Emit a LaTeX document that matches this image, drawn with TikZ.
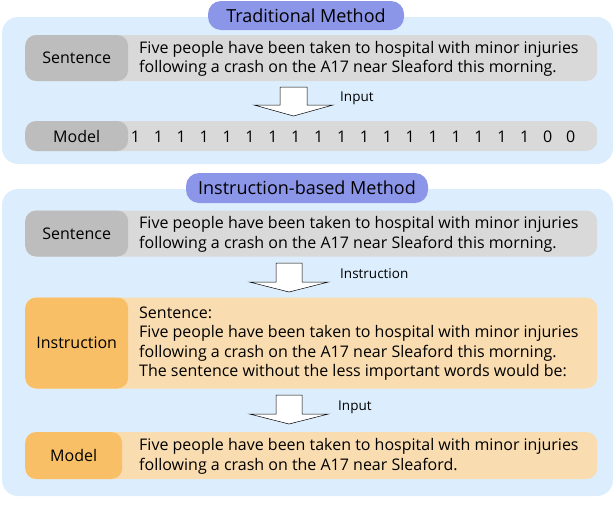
\documentclass[tikz,border=0pt]{standalone}
\usepackage{fontspec}
\setmainfont{Open Sans}
\usetikzlibrary{positioning}

\definecolor{panelblue}{HTML}{DCEEFD}
\definecolor{pillblue}{HTML}{8C96E8}
\definecolor{graylight}{HTML}{D9D9D9}
\definecolor{graydark}{HTML}{BDBDBD}
\definecolor{orangelight}{HTML}{F9DCB0}
\definecolor{orangedark}{HTML}{F9BF66}

\begin{document}
\begin{tikzpicture}[
  x = 1pt, y = -1pt,
  font          = \fontsize{16}{19.5}\selectfont,
  every node/.style = {align=left, inner sep=0pt},
  panel/.style  = {fill=panelblue, rounded corners=16pt, minimum width=611pt},
  pill/.style   = {fill=pillblue, rounded corners=13pt, align=center,
                   font=\fontsize{18}{20}\selectfont},
  bar/.style    = {rounded corners=11pt, anchor=west, minimum width=572pt},
  tag/.style    = {rounded corners=11pt, anchor=west, align=center},
  gbar/.style   = {bar, fill=graylight},
  obar/.style   = {bar, fill=orangelight},
  gtag/.style   = {tag, fill=graydark},
  otag/.style   = {tag, fill=orangedark},
  txt/.style    = {anchor=west},
  blockarrow/.style = {draw=black, fill=white, line width=0.5pt, line join=miter},
  arrlabel/.style   = {anchor=west, font=\fontsize{13.5}{15}\selectfont},
]
\useasboundingbox (0,0) rectangle (615,507);

% Panels and titles
\node[panel, minimum height=147pt] (trad) at (307.5,90.5) {};
\node[panel, minimum height=307pt] (inst) at (307.5,342.5) {};
\node[pill, minimum width=196pt, minimum height=29pt] (tradtitle) at (306,15.5) {Traditional Method};
\node[pill, minimum width=242pt, minimum height=30pt] (insttitle) at (307,188) {Instruction-based Method};

% Traditional method
\node[gbar, minimum height=46pt] (sent1bar) at (25,58) {};
\node[gtag, minimum width=103pt, minimum height=46pt] (sent1) at (25,58) {Sentence};
\node[txt] (sent1txt) at (139,59) {Five people have been taken to hospital with minor injuries\\following a crash on the A17 near Sleaford this morning.};

\node[gbar, minimum height=30pt] (model1bar) at (25,136) {};
\node[gtag, minimum width=103pt, minimum height=30pt] (model1) at (25,136) {Model};
\foreach \d [count=\i from 0] in {1,1,1,1,1,1,1,1,1,1,1,1,1,1,1,1,1,1,0,0}
  \node (digit\i) at (135.5+22.9*\i,136.5) {\d};

\coordinate (arr1) at (293.5,87);
\draw[blockarrow] (arr1) ++(-13.5,0) -- ++(27,0) -- ++(0,18) -- ++(26,0)
  -- ++(-39.5,11) -- ++(-39.5,-11) -- ++(26,0) -- cycle;
\node[arrlabel] (arr1lbl) at (340,98) {Input};

% Instruction-based method
\node[gbar, minimum height=46pt] (sent2bar) at (25,233.5) {};
\node[gtag, minimum width=103pt, minimum height=46pt] (sent2) at (25,233.5) {Sentence};
\node[txt] (sent2txt) at (139,234.5) {Five people have been taken to hospital with minor injuries\\following a crash on the A17 near Sleaford this morning.};

\coordinate (arr2) at (289,263);
\draw[blockarrow] (arr2) ++(-13,0) -- ++(26,0) -- ++(0,19) -- ++(26.5,0)
  -- ++(-39.5,10) -- ++(-39.5,-10) -- ++(26.5,0) -- cycle;
\node[arrlabel] (arr2lbl) at (340,274) {Instruction};

\node[obar, minimum height=91pt] (instrbar) at (25,343) {};
\node[otag, minimum width=103pt, minimum height=91pt] (instr) at (25,343) {Instruction};
\node[txt] (instrtxt) at (139,343.5) {Sentence:\\Five people have been taken to hospital with minor injuries\\following a crash on the A17 near Sleaford this morning.\\The sentence without the less important words would be:};

\coordinate (arr3) at (289,395);
\draw[blockarrow] (arr3) ++(-13,0) -- ++(26,0) -- ++(0,19) -- ++(26.5,0)
  -- ++(-39.5,10) -- ++(-39.5,-10) -- ++(26.5,0) -- cycle;
\node[arrlabel] (arr3lbl) at (338,407) {Input};

\node[obar, minimum height=47pt] (model2bar) at (25,455.5) {};
\node[otag, minimum width=97pt, minimum height=47pt] (model2) at (25,455.5) {Model};
\node[txt] (model2txt) at (139,456.5) {Five people have been taken to hospital with minor injuries\\following a crash on the A17 near Sleaford.};

\end{tikzpicture}
\end{document}
